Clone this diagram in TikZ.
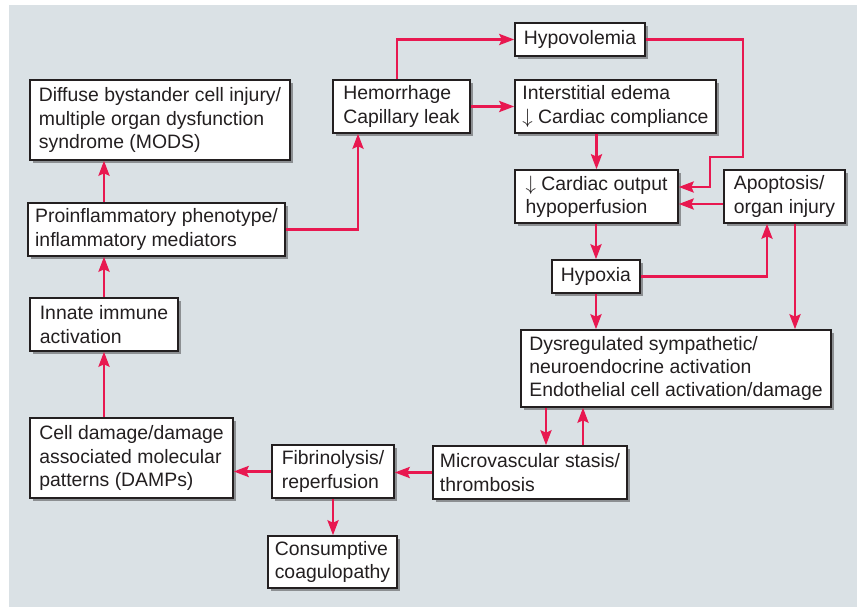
\documentclass[tikz,border=0pt]{standalone}
\usepackage{fontspec}
\setmainfont{Liberation Sans}
\usetikzlibrary{arrows.meta,shadows}
\definecolor{panel}{RGB}{218,225,229}
\definecolor{linkred}{RGB}{232,24,80}
\definecolor{inkgray}{RGB}{35,31,32}
\definecolor{shadegray}{RGB}{140,143,146}
\begin{document}
\begin{tikzpicture}[
    x=1pt, y=-1pt,
    every node/.style={font=\fontsize{19.4}{23.3}\selectfont, align=left, text=inkgray},
    box/.style={rectangle, draw=inkgray, line width=1.5pt, fill=white,
                inner xsep=7pt, inner ysep=0pt,
                drop shadow={shadow xshift=3pt, shadow yshift=-3pt, fill=shadegray, opacity=1}},
    arr/.style={-{Stealth[length=15pt, width=11pt, inset=2.5pt]}, line width=2.8pt, linkred},
]
    \useasboundingbox (0,0) rectangle (857,607);
    \fill[panel] (9,5) rectangle (857,607);
    % left column
    \node[box, minimum width=260pt, minimum height=80pt] (mods) at (160,120)
        {Diffuse bystander cell injury/\\multiple organ dysfunction\\syndrome (MODS)};
    \node[box, minimum width=253pt, minimum height=53pt] (proinfl) at (156.5,229.5)
        {Proinflammatory phenotype/\\inflammatory mediators};
    \node[box, minimum width=148pt, minimum height=53pt] (innate) at (104,324.5)
        {Innate immune\\activation};
    \node[box, minimum width=203pt, minimum height=80pt] (damps) at (131.5,458)
        {Cell damage/damage\\associated molecular\\patterns (DAMPs)};
    % bottom row
    \node[box, minimum width=122pt, minimum height=53pt] (fibrin) at (333,471.5)
        {Fibrinolysis/\\reperfusion};
    \node[box, minimum width=129pt, minimum height=52pt] (consum) at (332.5,562)
        {Consumptive\\coagulopathy};
    \node[box, minimum width=194pt, minimum height=53pt] (micro) at (530,472.5)
        {Microvascular stasis/\\thrombosis};
    \node[box, minimum width=310pt, minimum height=77pt] (dysreg) at (676,368.5)
        {Dysregulated sympathetic/\\neuroendocrine activation\\Endothelial cell activation/damage};
    % upper right
    \node[box, minimum width=137pt, minimum height=53pt] (hemor) at (401.5,106.5)
        {Hemorrhage\\Capillary leak};
    \node[box, minimum width=130pt, minimum height=33pt] (hypovol) at (580,39.5)
        {Hypovolemia};
    \node[box, minimum width=201pt, minimum height=53pt] (edema) at (615.5,106.5)
        {Interstitial edema\\$\downarrow$ Cardiac compliance};
    \node[box, minimum width=163pt, minimum height=53pt] (output) at (596.5,196.5)
        {$\downarrow$ Cardiac output\\hypoperfusion};
    \node[box, minimum width=121pt, minimum height=53pt] (apopt) at (784.5,196.5)
        {Apoptosis/\\organ injury};
    \node[box, minimum width=88pt, minimum height=33pt] (hypoxia) at (596,276.5)
        {Hypoxia};

    \draw[arr] (damps.north -| innate) -- (innate.south);
    \draw[arr] (innate.north) -- (proinfl.south -| innate);
    \draw[arr] (proinfl.north -| innate) -- (mods.south -| innate);
    \draw[arr] (proinfl.east) -| ([xshift=-43.5pt]hemor.south);
    \draw[arr] ([xshift=-4.5pt]hemor.north) |- (hypovol.west);
    \draw[arr] (hemor.east) -- (edema.west);
    \draw[arr] (hypovol.east) -- (743,39.5) -- (743,157) -- (710,157) -- (710,187)
        -- ([yshift=9.5pt]output.east);
    \draw[arr] ([yshift=-7.5pt]apopt.west) -- ([yshift=-7.5pt]output.east);
    \draw[arr] (output.north |- edema.south) -- (output.north);
    \draw[arr] (output.south -| hypoxia) -- (hypoxia.north);
    \draw[arr] (hypoxia.east) -| ([xshift=-17.5pt]apopt.south);
    \draw[arr] ([xshift=10.5pt]apopt.south) -- ([xshift=10.5pt]apopt.south |- dysreg.north);
    \draw[arr] (hypoxia.south) -- (hypoxia.south |- dysreg.north);
    \draw[arr] ([xshift=16pt]micro.north |- dysreg.south) -- ([xshift=16pt]micro.north);
    \draw[arr] ([xshift=53pt]micro.north) -- ([xshift=53pt]micro.north |- dysreg.south);
    \draw[arr] (micro.west) -- (micro.west -| fibrin.east);
    \draw[arr] (fibrin.west) -- (fibrin.west -| damps.east);
    \draw[arr] (fibrin.south) -- (fibrin.south |- consum.north);
\end{tikzpicture}
\end{document}
